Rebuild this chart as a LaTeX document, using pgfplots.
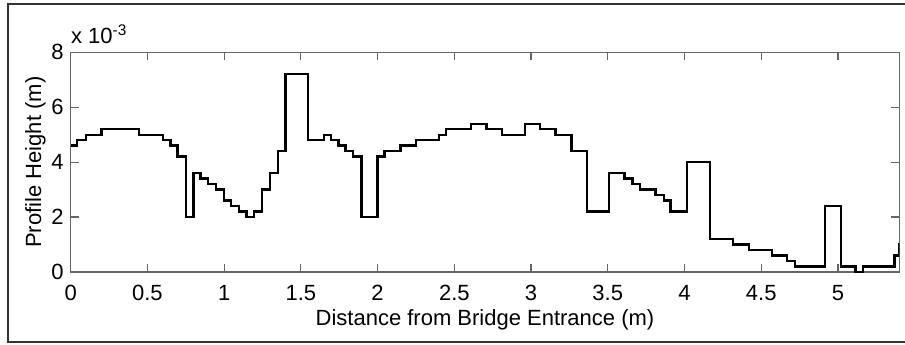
\documentclass[border=0pt]{standalone}
\usepackage{fontspec}
\setmainfont{Liberation Sans}
\usepackage{pgfplots}
\pgfplotsset{compat=1.18}
\begin{document}
\begin{tikzpicture}
\useasboundingbox (0,0) rectangle (452.5pt,-172pt);
\draw[line width=1.1pt, black!80] (4pt,-2pt) rectangle (470pt,-171pt);
\begin{axis}[
  name=ax,
  at={(35.35pt,-136pt)}, anchor=south west,
  scale only axis, width=414.3pt, height=109.85pt,
  xmin=0, xmax=5.4, ymin=0, ymax=8,
  xtick={0,0.5,1,1.5,2,2.5,3,3.5,4,4.5,5},
  ytick={0,2,4,6,8},
  tick align=inside, major tick length=4pt,
  axis line style={black!60, line width=0.6pt},
  tick style={black!60, line width=0.6pt},
  font=\fontsize{11}{13}\selectfont,
  /pgf/number format/assume math mode=true,
  xticklabel style={anchor=base, yshift=-14pt},
  xlabel={Distance from Bridge Entrance (m)},
  ylabel={Profile Height (m)},
  xlabel style={at={(axis description cs:0.5,0)}, anchor=base, yshift=-26.5pt},
  ylabel style={at={(axis description cs:-0.0358,0.5)}, anchor=base, rotate=0},
]
\addplot[const plot, black, line width=1.2pt] coordinates {
(0,4.6) (0.04,4.8) (0.10,5.0) (0.20,5.2) (0.445,5.0) (0.60,4.8) (0.65,4.6)
(0.695,4.2) (0.75,2.0) (0.80,3.6) (0.845,3.4) (0.895,3.2) (0.945,3.0)
(1.0,2.6) (1.045,2.4) (1.095,2.2) (1.145,2.0) (1.195,2.2) (1.245,3.0)
(1.30,3.6) (1.35,4.4) (1.40,7.2) (1.545,4.8) (1.65,5.0) (1.695,4.8)
(1.745,4.6) (1.79,4.4) (1.84,4.2) (1.895,2.0) (2.0,4.2) (2.045,4.4)
(2.15,4.6) (2.25,4.8) (2.40,5.0) (2.445,5.2) (2.61,5.4) (2.71,5.2)
(2.81,5.0) (2.96,5.4) (3.06,5.2) (3.16,5.0) (3.265,4.4) (3.365,2.2)
(3.51,3.6) (3.61,3.4) (3.66,3.2) (3.71,3.0) (3.81,2.8) (3.865,2.6)
(3.91,2.2) (4.015,4.0) (4.165,1.2) (4.315,1.0) (4.42,0.8) (4.57,0.6)
(4.67,0.4) (4.72,0.2) (4.915,2.4) (5.02,0.2) (5.115,0.0) (5.165,0.2)
(5.37,0.6) (5.40,1.0) (5.45,1.0)
};
\end{axis}
\node[anchor=base west, inner sep=0pt, font=\fontsize{11}{13}\selectfont] at ([yshift=4.5pt]ax.north west) {x 10\textsuperscript{-3}};
\end{tikzpicture}
\end{document}
